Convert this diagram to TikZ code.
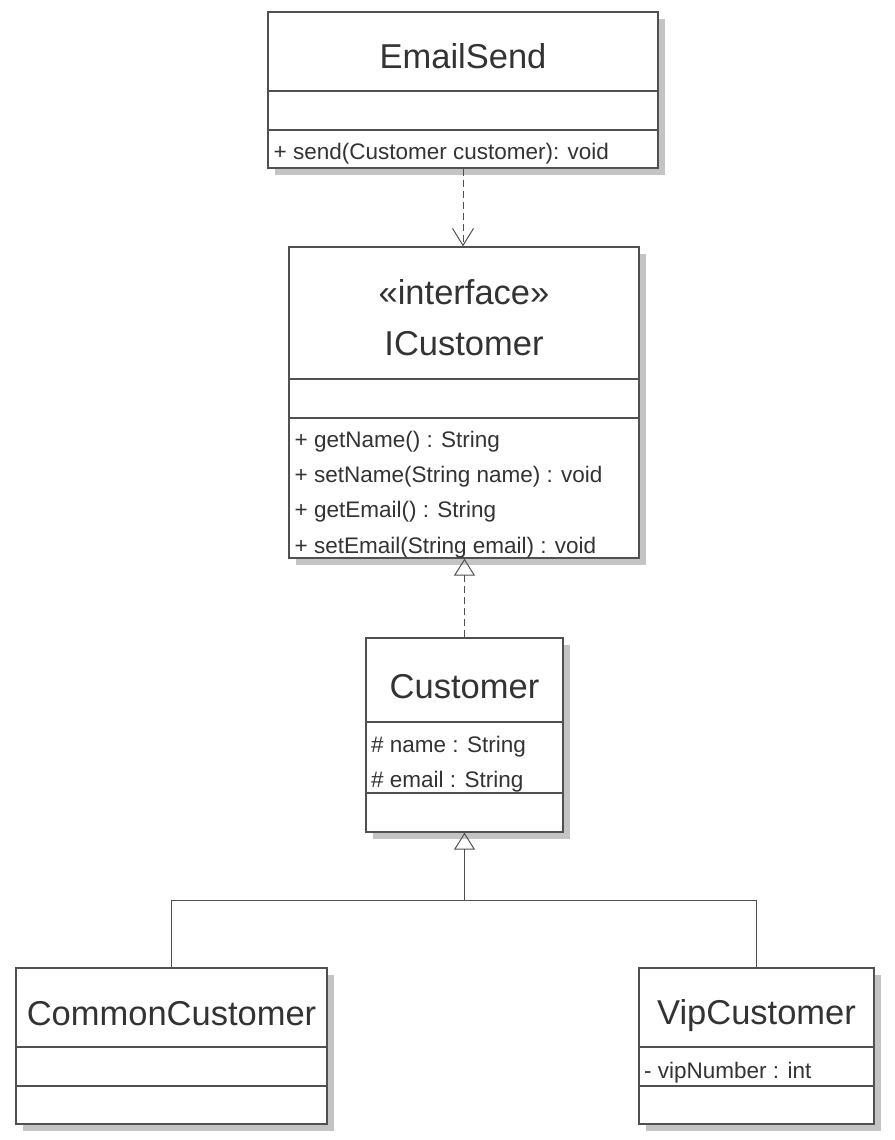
\documentclass[tikz,border=0pt]{standalone}
\usepackage{fontspec}
\setmainfont{Liberation Sans}
\usetikzlibrary{arrows.meta,shadows}
\definecolor{linec}{HTML}{505050}
\definecolor{txtc}{HTML}{333333}
\definecolor{shadc}{HTML}{C4C4C4}
\begin{document}
\begin{tikzpicture}[x=1pt,y=-1pt,
  box/.style={draw=linec, line width=1.3pt, fill=white, inner sep=0pt,
    drop shadow={shadow xshift=7pt, shadow yshift=-7pt, fill=shadc, opacity=1}},
  sep/.style={draw=linec, line width=1.3pt},
  title/.style={anchor=base, inner sep=0pt, text=txtc, font=\fontsize{34.5}{40}\selectfont},
  member/.style={anchor=base west, inner sep=0pt, text=txtc, font=\fontsize{22.5}{26}\selectfont},
  conn/.style={draw=linec, line width=1pt},
  dep/.style={conn, dash pattern=on 7pt off 4pt, -{Straight Barb[length=17pt,width=21pt,line width=1pt]}},
  real/.style={conn, dash pattern=on 7pt off 4pt, -{Triangle[open,length=17pt,width=21pt,line width=1pt]}},
  gen/.style={conn, -{Triangle[open,length=17pt,width=21pt,line width=1pt]}}
]
\useasboundingbox (0,0) rectangle (894,1140);
\fill[white] (0,0) rectangle (894,1140);

% boxes
\node[box, minimum width=390pt, minimum height=156pt] (es) at (463,90) {};
\node[box, minimum width=350pt, minimum height=311pt] (ic) at (464,402.5) {};
\node[box, minimum width=197pt, minimum height=194pt] (cu) at (464.5,735) {};
\node[box, minimum width=311pt, minimum height=156pt] (cc) at (171.5,1046) {};
\node[box, minimum width=235pt, minimum height=156pt] (vc) at (756.5,1046) {};

% separators
\coordinate (y91) at (0,91);   \coordinate (y130) at (0,130);
\coordinate (y379) at (0,379); \coordinate (y418) at (0,418);
\coordinate (y722) at (0,722); \coordinate (y793) at (0,793);
\coordinate (y1047) at (0,1047); \coordinate (y1086) at (0,1086);
\draw[sep] (es.west |- y91) -- (es.east |- y91);
\draw[sep] (es.west |- y130) -- (es.east |- y130);
\draw[sep] (ic.west |- y379) -- (ic.east |- y379);
\draw[sep] (ic.west |- y418) -- (ic.east |- y418);
\draw[sep] (cu.west |- y722) -- (cu.east |- y722);
\draw[sep] (cu.west |- y793) -- (cu.east |- y793);
\draw[sep] (cc.west |- y1047) -- (cc.east |- y1047);
\draw[sep] (cc.west |- y1086) -- (cc.east |- y1086);
\draw[sep] (vc.west |- y1047) -- (vc.east |- y1047);
\draw[sep] (vc.west |- y1086) -- (vc.east |- y1086);

% texts
\node[title] (esT) at (463,68) {EmailSend};
\node[member] (esM) at (273.5,159) {+ send(Customer customer): void};

\node[title] (icS) at (464,304) {«interface»};
\node[title] (icT) at (464,355) {ICustomer};
\node[member] (icM1) at (294.5,447) {+ getName() : String};
\node[member] (icM2) at (294.5,482) {+ setName(String name) : void};
\node[member] (icM3) at (294.5,517) {+ getEmail() : String};
\node[member] (icM4) at (294.5,553) {+ setEmail(String email) : void};

\node[title] (cuT) at (464.5,698) {Customer};
\node[member] (cuA1) at (371,752) {\# name : String};
\node[member] (cuA2) at (371,787) {\# email : String};

\node[title] (ccT) at (171.5,1025) {CommonCustomer};
\node[title] (vcT) at (756.5,1024) {VipCustomer};
\node[member] (vcA1) at (644,1078) {- vipNumber : int};

% connectors
\draw[dep] (es.south) -- (es.south |- ic.north);
\draw[real] (cu.north) -- (cu.north |- ic.south);
\coordinate (hl) at (464.5,900);
\draw[conn] (cc.north) |- (hl) -| (vc.north);
\draw[gen] (hl) -- (cu.south);
\end{tikzpicture}
\end{document}
